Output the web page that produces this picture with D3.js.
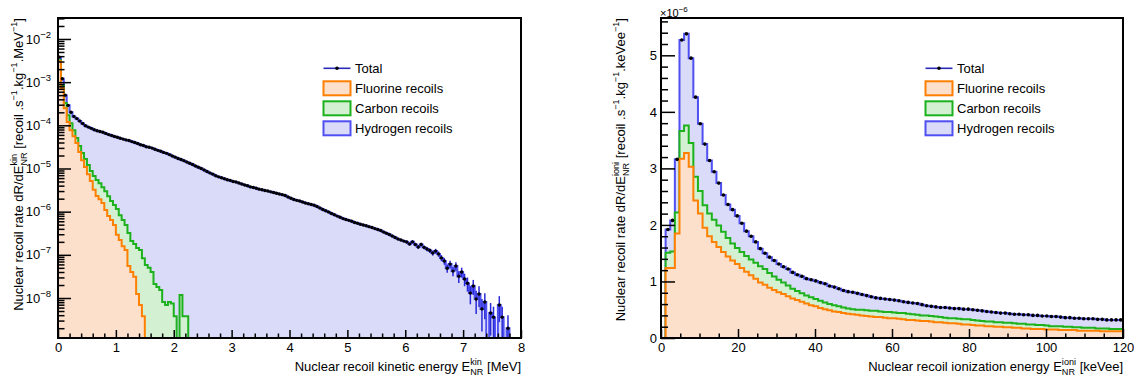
<!DOCTYPE html>
<html><head><meta charset="utf-8">
<script src="https://cdn.jsdelivr.net/npm/d3@7"></script>
<style>
body{margin:0;background:#fff}
svg text{font-family:"Liberation Sans",Arial,Helvetica,sans-serif;fill:#000}
</style>
</head><body>
<svg id="c" width="1134" height="380"></svg>
<script>
// ---------------- DATA ----------------
// Left: kinetic energy spectrum, bins of 0.05 MeV from 0 to 8 MeV (rate per MeV)
const kinBinWidth = 0.05;
const kinNBins = 160;
const kinTotal = [
3.8e-3,1.2e-3,5.0e-4,2.9e-4,2.0e-4,1.6e-4,1.43e-4,1.26e-4,1.10e-4,9.8e-5,
9.1e-5,8.5e-5,7.9e-5,7.5e-5,7.2e-5,6.9e-5,6.5e-5,6.1e-5,5.8e-5,5.5e-5,
5.3e-5,5.0e-5,4.8e-5,4.6e-5,4.45e-5,4.2e-5,4.0e-5,3.8e-5,3.55e-5,3.4e-5,
3.2e-5,3.1e-5,2.97e-5,2.8e-5,2.63e-5,2.5e-5,2.36e-5,2.24e-5,2.1e-5,1.95e-5,
1.83e-5,1.71e-5,1.61e-5,1.52e-5,1.41e-5,1.32e-5,1.24e-5,1.14e-5,1.07e-5,1.0e-5,
9.2e-6,8.5e-6,7.9e-6,7.4e-6,6.8e-6,6.4e-6,6.1e-6,5.8e-6,5.5e-6,5.3e-6,
5.0e-6,4.87e-6,4.6e-6,4.37e-6,4.15e-6,3.97e-6,3.75e-6,3.63e-6,3.48e-6,3.32e-6,
3.22e-6,3.1e-6,3.0e-6,2.88e-6,2.77e-6,2.68e-6,2.57e-6,2.48e-6,2.36e-6,2.19e-6,
2.04e-6,1.92e-6,1.83e-6,1.76e-6,1.67e-6,1.59e-6,1.52e-6,1.46e-6,1.41e-6,1.32e-6,
1.22e-6,1.12e-6,1.05e-6,9.8e-7,9.1e-7,8.5e-7,7.9e-7,7.4e-7,6.9e-7,6.6e-7,
6.3e-7,6.0e-7,5.6e-7,5.4e-7,5.1e-7,4.9e-7,4.7e-7,4.5e-7,4.3e-7,4.05e-7,
3.87e-7,3.65e-7,3.38e-7,3.15e-7,2.96e-7,2.74e-7,2.52e-7,2.33e-7,2.2e-7,2.08e-7,
1.99e-7,1.78e-7,2.0e-7,1.74e-7,1.52e-7,1.74e-7,1.49e-7,1.36e-7,1.26e-7,1.1e-7,
1.22e-7,1.05e-7,8.5e-8,7.2e-8,4.9e-8,6.1e-8,4.2e-8,5.5e-8,3.2e-8,4.0e-8,
2.76e-8,2.2e-8,1.3e-8,1.9e-8,9.5e-9,1.24e-8,5.6e-9,8.1e-9,0,4.5e-9,
3.6e-9,0,6.9e-9,3.6e-9,0,2.0e-9,0,0,0,0
];
const kinFluorine = [
3.06e-3,7.3e-4,2.5e-4,1.19e-4,7.7e-5,5.6e-5,3.9e-5,2.4e-5,1.56e-5,1.08e-5,
7.4e-6,5.1e-6,3.2e-6,2.3e-6,1.95e-6,1.58e-6,1.09e-6,7.9e-7,6.4e-7,4.9e-7,
2.9e-7,2.2e-7,1.59e-7,1.29e-7,5.5e-8,4.0e-8,3.1e-8,1.24e-8,6.9e-9,3.8e-9
];
const kinCarbon = [
1.7e-4,1.2e-4,7.7e-5,5.3e-5,3.5e-5,2.1e-5,1.2e-5,9.0e-6,7.1e-6,5.7e-6,
4.6e-6,3.6e-6,3.5e-6,3.1e-6,2.6e-6,2.1e-6,1.9e-6,1.5e-6,1.12e-6,9.3e-7,
8.6e-7,6.1e-7,4.8e-7,3.6e-7,2.65e-7,1.69e-7,1.47e-7,1.31e-7,1.22e-7,8.0e-8,
5.8e-8,5.0e-8,4.0e-8,2.1e-8,1.8e-8,1.53e-8,8.1e-9,6.9e-9,8.1e-9,7.5e-9,
3.8e-9,0,1.17e-8,3.8e-9,3.8e-9
];
// relative statistical errors of the total, from bin 120 on (smaller bins: negligible)
const kinErrFirstBin = 120;
const kinTotalRelErr = [
0.08,0.08,0.09,0.09,0.10,0.10,0.10,0.11,0.12,0.13,
0.13,0.14,0.16,0.18,0.22,0.20,0.24,0.22,0.30,0.26,
0.32,0.36,0.45,0.38,0.55,0.50,0.70,0.60,0,0.70,
0.75,0,0.60,0.75,0,1.0,0,0,0,0
];
const kinXTicks = [0,1,2,3,4,5,6,7,8];
const kinYDecades = [-8,-7,-6,-5,-4,-3,-2];
const kinYDomain = [1.185e-9, 3.06e-2];

// Right: ionization energy spectrum, bins of 1.2 keVee from 0 to 120 (units of 1e-6)
const ioniBinWidth = 1.2;
const ioniNBins = 100;
const ioniTotal = [
0,1.92,2.08,3.16,5.27,5.38,4.95,4.26,3.79,3.43,
3.14,2.94,2.74,2.53,2.36,2.27,2.16,2.03,1.89,1.80,
1.70,1.58,1.50,1.43,1.37,1.31,1.26,1.22,1.16,1.12,
1.09,1.05,1.03,1.01,0.98,0.96,0.92,0.90,0.87,0.84,
0.82,0.81,0.79,0.77,0.75,0.73,0.71,0.70,0.69,0.68,
0.67,0.66,0.64,0.63,0.62,0.61,0.59,0.57,0.56,0.55,
0.54,0.54,0.53,0.52,0.52,0.51,0.51,0.50,0.49,0.48,
0.47,0.46,0.45,0.44,0.44,0.43,0.42,0.42,0.41,0.41,
0.40,0.40,0.39,0.39,0.38,0.38,0.37,0.36,0.36,0.35,
0.35,0.34,0.34,0.34,0.33,0.33,0.32,0.32,0.32,0.32
];
const ioniFluorine = [
0,1.24,1.24,1.85,3.17,3.27,3.03,2.43,2.20,1.95,
1.80,1.70,1.61,1.52,1.44,1.37,1.31,1.24,1.17,1.11,
1.05,0.98,0.94,0.89,0.85,0.81,0.78,0.74,0.70,0.67,
0.64,0.61,0.58,0.56,0.53,0.51,0.49,0.47,0.46,0.44,
0.43,0.42,0.41,0.40,0.39,0.38,0.37,0.37,0.36,0.35,
0.35,0.34,0.33,0.32,0.32,0.31,0.30,0.30,0.29,0.28,
0.28,0.27,0.26,0.26,0.25,0.24,0.24,0.23,0.22,0.22,
0.21,0.21,0.20,0.20,0.19,0.19,0.18,0.18,0.17,0.17,
0.16,0.16,0.16,0.15,0.15,0.15,0.14,0.14,0.14,0.14,
0.13,0.13,0.13,0.13,0.13,0.12,0.12,0.12,0.12,0.12
];
const ioniCarbon = [
0,0.27,0.29,0.37,0.49,0.49,0.42,0.42,0.40,0.40,
0.40,0.39,0.38,0.36,0.33,0.30,0.28,0.28,0.28,0.28,
0.28,0.29,0.28,0.26,0.24,0.22,0.20,0.19,0.17,0.16,
0.15,0.14,0.14,0.13,0.13,0.12,0.11,0.11,0.10,0.10,
0.09,0.09,0.09,0.10,0.10,0.10,0.11,0.10,0.10,0.11,
0.10,0.10,0.11,0.11,0.10,0.10,0.10,0.10,0.10,0.10,
0.09,0.09,0.09,0.09,0.09,0.09,0.09,0.09,0.09,0.08,
0.08,0.08,0.08,0.08,0.08,0.08,0.08,0.07,0.08,0.07,
0.08,0.07,0.07,0.07,0.06,0.06,0.07,0.06,0.06,0.05,
0.06,0.05,0.05,0.05,0.04,0.05,0.05,0.04,0.04,0.04
];
const ioniXTicks = [0,20,40,60,80,100,120];
const ioniYTicks = [0,1,2,3,4,5];
const ioniYDomain = [0, 5.66];
const ioniExponent = "-6";

const legendLabels = ["Total","Fluorine recoils","Carbon recoils","Hydrogen recoils"];

// ---------------- STYLE ----------------
const C = {
  fStroke:"#ff7f00", fFill:"#fde0cc",
  cStroke:"#1db21d", cFill:"#d3f0d3",
  hStroke:"#4f4ff2", hFill:"#d9dbf8",
  err:"#2a2ad8", legLine:"#2a2ab8"
};
const FS = 13;
const svg = d3.select("#c");

// rich text helper: strings, or {sup, sub}
function rich(t, segs, size){
  let cur = 0, pendingDx = 0;
  segs.forEach(s=>{
    if (typeof s === "string"){
      const ts = t.append("tspan").attr("dy", -cur).text(s);
      if (pendingDx) ts.attr("dx", pendingDx);
      cur = 0; pendingDx = 0;
    } else {
      let wSup = 0;
      if (s.sup != null){
        const off = -size*0.42;
        const ts = t.append("tspan").attr("dy", off-cur).attr("font-size", size*0.7).text(s.sup);
        if (pendingDx) ts.attr("dx", pendingDx);
        pendingDx = 0; cur = off;
        wSup = ts.node().getComputedTextLength();
      }
      if (s.sub != null){
        const off = size*0.32;
        const ts = t.append("tspan").attr("dy", off-cur).attr("font-size", size*0.7).text(s.sub);
        if (wSup) ts.attr("dx", -wSup);
        cur = off;
        const wSub = ts.node().getComputedTextLength();
        pendingDx = Math.max(0, wSup - wSub);
      }
    }
  });
}

function stepPoints(vals, n, bw, x, yv){
  const pts = [[x(0), yv(0)]];
  for (let i=0;i<n;i++){
    const v = vals[i] || 0;
    pts.push([x(i*bw), yv(v)], [x((i+1)*bw), yv(v)]);
  }
  pts.push([x(n*bw), yv(0)]);
  return pts;
}
const line = d3.line();

function drawHist(g, vals, n, bw, x, yv, fill, stroke){
  const pts = stepPoints(vals, n, bw, x, yv);
  g.append("path").attr("d", line(pts)+"Z").attr("fill", fill).attr("stroke","none");
  g.append("path").attr("d", line(pts)).attr("fill","none").attr("stroke", stroke)
    .attr("stroke-width", 2).attr("stroke-linejoin","miter");
}

function drawLegend(x0, xText){
  const g = svg.append("g");
  const rows = [68.3, 88.3, 108.3, 128.3];
  const w = 27;
  // Total
  g.append("line").attr("x1", x0).attr("x2", x0+w).attr("y1", rows[0]).attr("y2", rows[0])
    .attr("stroke", C.legLine).attr("stroke-width", 1.6);
  g.append("circle").attr("cx", x0+w/2).attr("cy", rows[0]).attr("r", 1.8).attr("fill","#000");
  const boxes = [[C.fFill,C.fStroke],[C.cFill,C.cStroke],[C.hFill,C.hStroke]];
  boxes.forEach((b,i)=>{
    g.append("rect").attr("x", x0).attr("y", rows[i+1]-7).attr("width", w).attr("height", 14)
      .attr("fill", b[0]).attr("stroke", b[1]).attr("stroke-width", 2);
  });
  legendLabels.forEach((l,i)=>{
    g.append("text").attr("x", xText).attr("y", rows[i]+4.6).attr("font-size", FS).text(l);
  });
}

// ---------------- LEFT PANEL ----------------
{
  const L = {x0:58, x1:521, y0:18, y1:338};
  const x = d3.scaleLinear().domain([0, 8]).range([L.x0, L.x1]);
  const y = d3.scaleLog().domain(kinYDomain).range([L.y1, L.y0]);
  const yv = v => v > 0 ? Math.max(L.y0-5, Math.min(L.y1, y(v))) : L.y1;

  svg.append("clipPath").attr("id","clipL").append("rect")
    .attr("x",L.x0).attr("y",L.y0).attr("width",L.x1-L.x0).attr("height",L.y1-L.y0);
  const g = svg.append("g").attr("clip-path","url(#clipL)");

  const cumFC = d3.range(kinNBins).map(i => (kinFluorine[i]||0) + (kinCarbon[i]||0));
  drawHist(g, kinTotal, kinNBins, kinBinWidth, x, yv, C.hFill, C.hStroke);
  drawHist(g, cumFC, kinNBins, kinBinWidth, x, yv, C.cFill, C.cStroke);
  drawHist(g, kinFluorine, kinNBins, kinBinWidth, x, yv, C.fFill, C.fStroke);

  // error bars
  kinTotalRelErr.forEach((re,j)=>{
    const i = kinErrFirstBin + j, v = kinTotal[i];
    if (!(v > 0) || !re) return;
    const xc = x((i+0.5)*kinBinWidth);
    g.append("line").attr("x1",xc).attr("x2",xc)
      .attr("y1", yv(v*(1+re))).attr("y2", v*(1-re) > kinYDomain[0] ? yv(v*(1-re)) : L.y1)
      .attr("stroke", C.err).attr("stroke-width", 1.5);
  });
  // markers
  g.selectAll("circle.m").data(kinTotal.map((v,i)=>({v,i})).filter(d=>d.v>0)).enter()
    .append("circle").attr("cx", d=>x((d.i+0.5)*kinBinWidth)).attr("cy", d=>yv(d.v))
    .attr("r", 1.7).attr("fill","#000");

  // frame
  svg.append("rect").attr("x",L.x0).attr("y",L.y0).attr("width",L.x1-L.x0).attr("height",L.y1-L.y0)
    .attr("fill","none").attr("stroke","#000").attr("stroke-width",2);

  // x axis
  const minorX = d3.range(0, 8.0001, 0.2).filter(v => Math.abs(v-Math.round(v))>1e-6);
  const ax = svg.append("g").attr("transform",`translate(0,${L.y1})`)
    .call(d3.axisBottom(x).tickValues(kinXTicks).tickSize(-8).tickPadding(5).tickFormat(d3.format("d")));
  const axm = svg.append("g").attr("transform",`translate(0,${L.y1})`)
    .call(d3.axisBottom(x).tickValues(minorX).tickSize(-4.5).tickFormat(""));
  // y axis
  const decades = kinYDecades.map(e => Math.pow(10,e));
  const minorY = [];
  for (let e=-9;e<=-2;e++) for (let m=2;m<=9;m++){ const v=m*Math.pow(10,e); if (v>=kinYDomain[0] && v<=kinYDomain[1]) minorY.push(v); }
  const ay = svg.append("g").attr("transform",`translate(${L.x0},0)`)
    .call(d3.axisLeft(y).tickValues(decades).tickSize(-13).tickFormat(""));
  const aym = svg.append("g").attr("transform",`translate(${L.x0},0)`)
    .call(d3.axisLeft(y).tickValues(minorY).tickSize(-6.5).tickFormat(""));
  [ax,axm,ay,aym].forEach(a=>{ a.select(".domain").remove(); a.selectAll("line").attr("stroke","#000").attr("stroke-width",1.5);
    a.selectAll("text").attr("font-size",FS).attr("font-family",null); });
  kinYDecades.forEach(e=>{
    const t = svg.append("text").attr("x", 51).attr("y", y(Math.pow(10,e))+4.6)
      .attr("text-anchor","end").attr("font-size", FS);
    t.append("tspan").text("10");
    t.append("tspan").attr("dy",-6).attr("font-size",9.5).text("\u2212"+String(-e));
  });

  // titles
  const tx = svg.append("text").attr("x", L.x1).attr("y", 370.5).attr("text-anchor","end").attr("font-size",FS);
  rich(tx, ["Nuclear recoil kinetic energy E", {sup:"kin", sub:"NR"}, " [MeV]"], FS);
  const ty = svg.append("text").attr("transform",`translate(22.5,${L.y0}) rotate(-90)`)
    .attr("text-anchor","end").attr("font-size",FS);
  rich(ty, ["Nuclear recoil rate dR/dE", {sup:"kin", sub:"NR"}, " [recoil .s", {sup:"\u22121"},
            ".kg", {sup:"\u22121"}, ".MeV", {sup:"\u22121"}, "]"], FS);

  drawLegend(323.5, 355);
}

// ---------------- RIGHT PANEL ----------------
{
  const R = {x0:661, x1:1123, y0:18, y1:338};
  const x = d3.scaleLinear().domain([0, 120]).range([R.x0, R.x1]);
  const y = d3.scaleLinear().domain(ioniYDomain).range([R.y1, R.y0]);
  const yv = v => y(v);

  svg.append("clipPath").attr("id","clipR").append("rect")
    .attr("x",R.x0).attr("y",R.y0).attr("width",R.x1-R.x0).attr("height",R.y1-R.y0);
  const g = svg.append("g").attr("clip-path","url(#clipR)");

  const cumFC = d3.range(ioniNBins).map(i => ioniFluorine[i] + ioniCarbon[i]);
  drawHist(g, ioniTotal, ioniNBins, ioniBinWidth, x, yv, C.hFill, C.hStroke);
  drawHist(g, cumFC, ioniNBins, ioniBinWidth, x, yv, C.cFill, C.cStroke);
  drawHist(g, ioniFluorine, ioniNBins, ioniBinWidth, x, yv, C.fFill, C.fStroke);

  g.selectAll("circle.m").data(ioniTotal.map((v,i)=>({v,i})).filter(d=>d.v>0)).enter()
    .append("circle").attr("cx", d=>x((d.i+0.5)*ioniBinWidth)).attr("cy", d=>y(d.v))
    .attr("r", 1.8).attr("fill","#000");

  svg.append("rect").attr("x",R.x0).attr("y",R.y0).attr("width",R.x1-R.x0).attr("height",R.y1-R.y0)
    .attr("fill","none").attr("stroke","#000").attr("stroke-width",2);

  const minorX = d3.range(0, 120.001, 5).filter(v => v % 20 !== 0);
  const minorY = d3.range(0, 5.66, 0.2).filter(v => Math.abs(v-Math.round(v))>1e-6);
  const ax = svg.append("g").attr("transform",`translate(0,${R.y1})`)
    .call(d3.axisBottom(x).tickValues(ioniXTicks).tickSize(-9).tickPadding(5).tickFormat(d3.format("d")));
  const axm = svg.append("g").attr("transform",`translate(0,${R.y1})`)
    .call(d3.axisBottom(x).tickValues(minorX).tickSize(-4.5).tickFormat(""));
  const ay = svg.append("g").attr("transform",`translate(${R.x0},0)`)
    .call(d3.axisLeft(y).tickValues(ioniYTicks).tickSize(-14).tickPadding(4).tickFormat(d3.format("d")));
  const aym = svg.append("g").attr("transform",`translate(${R.x0},0)`)
    .call(d3.axisLeft(y).tickValues(minorY).tickSize(-7).tickFormat(""));
  [ax,axm,ay,aym].forEach(a=>{ a.select(".domain").remove(); a.selectAll("line").attr("stroke","#000").attr("stroke-width",1.5);
    a.selectAll("text").attr("font-size",FS).attr("font-family",null); });

  const ex = svg.append("text").attr("x", R.x0-1).attr("y", 16.5).attr("font-size", 11);
  ex.append("tspan").text("\u00d710");
  ex.append("tspan").attr("dy",-5).attr("font-size",8).text(ioniExponent.replace("-","\u2212"));

  const tx = svg.append("text").attr("x", R.x1).attr("y", 370.5).attr("text-anchor","end").attr("font-size",FS);
  rich(tx, ["Nuclear recoil ionization energy E", {sup:"ioni", sub:"NR"}, " [keVee]"], FS);
  const ty = svg.append("text").attr("transform",`translate(624.5,${R.y0}) rotate(-90)`)
    .attr("text-anchor","end").attr("font-size",FS);
  rich(ty, ["Nuclear recoil rate dR/dE", {sup:"ioni", sub:"NR"}, " [recoil .s", {sup:"\u22121"},
            ".kg", {sup:"\u22121"}, ".keVee", {sup:"\u22121"}, "]"], FS);

  drawLegend(925.5, 957);
}
</script>
</body></html>
